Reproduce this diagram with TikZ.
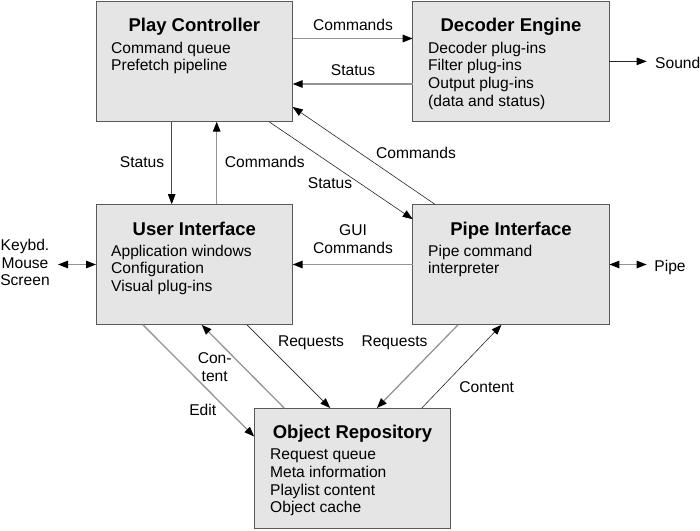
\documentclass[tikz,border=0pt]{standalone}
\usepackage{fontspec}
\setmainfont{Liberation Sans}
\usetikzlibrary{arrows.meta}
\begin{document}
\begin{tikzpicture}[x=1pt,y=-1pt,
 box/.style={draw=black!65, fill=black!10, line width=1pt, minimum width=196.7pt, minimum height=120.7pt, inner sep=0pt, outer sep=0pt},
 ttl/.style={font=\fontsize{18.5}{22}\selectfont\bfseries, anchor=base, inner sep=0pt},
 body/.style={font=\fontsize{15.6}{17.7}\selectfont, align=left, anchor=north west, inner sep=0pt},
 lbl/.style={font=\fontsize{15.6}{17.7}\selectfont, align=center, inner sep=0pt},
 gl/.style={draw=black!42, line width=1.3pt},
 bl/.style={draw=black!85, line width=0.6pt},
 tip/.style={-{Triangle[length=10pt,width=7.5pt,color=black]}},
 tips/.style={{Triangle[length=10pt,width=7.5pt,color=black]}-{Triangle[length=10pt,width=7.5pt,color=black]}}
]
\useasboundingbox (0,0) rectangle (700,530);

% boxes
\node[box] (pc) at (194.35,61.35) {};
\node[box] (de) at (511.05,61.35) {};
\node[box] (ui) at (194.35,264.5) {};
\node[box] (pi) at (511.05,264.5) {};
\node[box] (or) at (352.5,468.35) {};

% titles and bodies
\node[ttl] (pct) at (194.35,31.7) {Play Controller};
\node[body] (pcb) at (111,41.5) {Command queue\\Prefetch pipeline};
\node[ttl] (det) at (511.05,31.7) {Decoder Engine};
\node[body] (deb) at (428,41.5) {Decoder plug-ins\\Filter plug-ins\\Output plug-ins\\(data and status)};
\node[ttl] (uit) at (194.35,235) {User Interface};
\node[body] (uib) at (111,244.7) {Application windows\\Configuration\\Visual plug-ins};
\node[ttl] (pit) at (511.05,235) {Pipe Interface};
\node[body] (pib) at (428,244.7) {Pipe command\\interpreter};
\node[ttl] (ort) at (352.5,438.5) {Object Repository};
\node[body] (orb) at (270,448.7) {Request queue\\Meta information\\Playlist content\\Object cache};

% free ends
\coordinate (snd) at (646.7,61.35);
\coordinate (kbd) at (58,264.5);
\coordinate (pip) at (646.7,264.5);

% connectors
\draw[gl,tip] ([yshift=-37.5pt]pc.north east) -- ([yshift=-37.5pt]de.north west);
\draw[gl,tip] ([yshift=-83pt]de.north west) -- ([yshift=-83pt]pc.north east);
\draw[bl,tip] (de.east) -- (snd);
\draw[bl,draw=black!70,tip] ([xshift=75.7pt]pc.south west) -- ([xshift=75.7pt]ui.north west);
\draw[gl,tip] ([xshift=120.7pt]ui.north west) -- ([xshift=120.7pt]pc.south west);
\draw[bl,tip] ([xshift=173pt]pc.south west) -- ([yshift=-15pt]pi.north west);
\draw[bl,tip] ([xshift=22pt]pi.north west) -- ([yshift=-106pt]pc.north east);
\draw[gl,tip] (pi.west) -- (ui.east);
\draw[gl,tips] (kbd) -- (ui.west);
\draw[gl,tips] (pi.east) -- (pip);
\draw[gl,tip] ([xshift=47pt]ui.south west) -- ([yshift=-28.5pt]or.north west);
\draw[gl,tip] ([xshift=30pt]or.north west) -- ([xshift=105.7pt]ui.south west);
\draw[bl,tip] ([xshift=151pt]ui.south west) -- ([xshift=76pt]or.north west);
\draw[gl,tip] ([xshift=45.3pt]pi.south west) -- ([xshift=122.7pt]or.north west);
\draw[bl,tip] ([xshift=167.7pt]or.north west) -- ([xshift=88.7pt]pi.south west);

% labels
\node[lbl] (l1) at (353,25) {Commands};
\node[lbl] (l2) at (353,70) {Status};
\node[lbl,anchor=west] (l3) at (655,63) {Sound};
\node[lbl] (l4) at (142,161.7) {Status};
\node[lbl] (l5) at (264.7,161.7) {Commands};
\node[lbl] (l6) at (330,182.7) {Status};
\node[lbl] (l7) at (416,153.3) {Commands};
\node[lbl] (l8) at (353,239) {GUI\\Commands};
\node[lbl] (l9) at (25,262.5) {Keybd.\\Mouse\\Screen};
\node[lbl] (l10) at (670,267) {Pipe};
\node[lbl] (l11) at (214.7,367) {Con-\\tent};
\node[lbl] (l12) at (202.7,410) {Edit};
\node[lbl] (l13) at (311,342.3) {Requests};
\node[lbl] (l14) at (394.5,342.3) {Requests};
\node[lbl] (l15) at (486.7,387.3) {Content};
\end{tikzpicture}
\end{document}
